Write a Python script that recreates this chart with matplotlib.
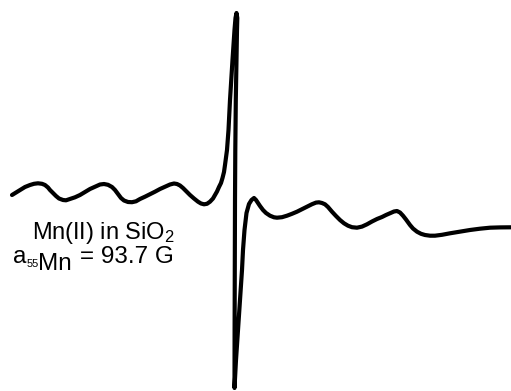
import matplotlib.pyplot as plt
import numpy as np

plt.rcParams['font.family'] = ['Liberation Sans', 'DejaVu Sans']
plt.rcParams['mathtext.fontset'] = 'custom'
plt.rcParams['mathtext.rm'] = 'Liberation Sans'
plt.rcParams['mathtext.it'] = 'Liberation Sans'

# EPR trace (field position, signal height)
field = [12, 16, 20, 25, 30, 34, 38, 42, 45, 48, 50, 53, 56, 59, 63, 66, 70,
         75, 80, 85, 90, 95, 100, 104, 108, 112, 115, 118, 121, 124, 128, 132,
         136, 140, 145, 150, 155, 160, 165, 170, 174, 177, 180, 183, 186, 190,
         194, 198, 201, 204, 207, 210, 213, 215, 217, 219, 221, 222.5, 224,
         225, 227, 228.5, 230, 232.5, 234.5, 235.5, 236.5, 237.3, 237, 236.5,
         235.8, 235.3, 235, 234.8, 234.6, 234.5, 236, 238, 240, 242, 243,
         244.5, 246.5, 249, 251.5, 254, 256, 258, 260, 263, 266, 270, 274,
         277, 282, 287, 292, 297, 302, 307, 312, 316, 319, 322, 325, 328, 332,
         336, 340, 344, 348, 352, 357, 362, 367, 372, 377, 382, 386, 390, 394,
         397, 400, 403, 406, 410, 413, 417, 421, 425, 430, 435, 442, 450, 460,
         470, 480, 490, 500, 511]
signal = [195, 192.5, 190, 187, 185, 183.8, 183.3, 183.8, 185, 187.5, 190,
          193, 196, 198.5, 200, 200.3, 199, 197.3, 195, 192, 189, 186.8, 184.5,
          184, 184.8, 187, 190, 194, 198, 200.5, 202, 202.2, 201.3, 199, 196.7,
          194.2, 191.7, 189, 186.7, 184.5, 183.5, 184, 185.5, 188, 191, 195,
          198.5, 201.7, 203.5, 204.3, 203.8, 201.7, 198.5, 195, 191.5, 187,
          183, 178, 172, 165, 150, 130, 100, 60, 30, 18, 13, 18, 30, 60, 100,
          150, 200, 260, 330, 388, 360, 330, 300, 270, 250, 230, 213, 204, 200,
          198, 200, 203, 206, 210, 213, 215.7, 217.3, 217.7, 217.2, 215.7,
          213.8, 211.7, 209.2, 206.7, 204.2, 202.6, 202.3, 203, 204.3, 207,
          211.7, 216, 220, 223.3, 225.7, 227.2, 227.7, 226.6, 224.3, 221.5,
          219, 217, 215, 213.3, 211.5, 211, 212.5, 215.7, 219.5, 225, 228.5,
          231.7, 233.8, 235, 235.7, 235.7, 234.8, 233.3, 231.6, 230, 228.7,
          227.7, 227.4, 227.3]

fig = plt.figure(figsize=(5.11, 3.91), dpi=100)
ax = fig.add_axes([0, 0, 1, 1])
ax.plot(field, signal, color='black', lw=3, solid_joinstyle='round',
        solid_capstyle='round')
ax.set_xlim(0, 511)
ax.set_ylim(391, 0)
ax.axis('off')

ax.text(175, 239, 'Mn(II) in SiO$_2$', ha='right', va='baseline', fontsize=17)
ax.text(13, 263, 'a', ha='left', va='baseline', fontsize=17.5)
ax.text(26.5, 267, '55', ha='left', va='baseline', fontsize=8)
ax.text(38, 270, 'Mn', ha='left', va='baseline', fontsize=17.5)
ax.text(174, 263, '= 93.7 G', ha='right', va='baseline', fontsize=17.5)

fig.savefig('out.png', dpi=100, facecolor='white')
